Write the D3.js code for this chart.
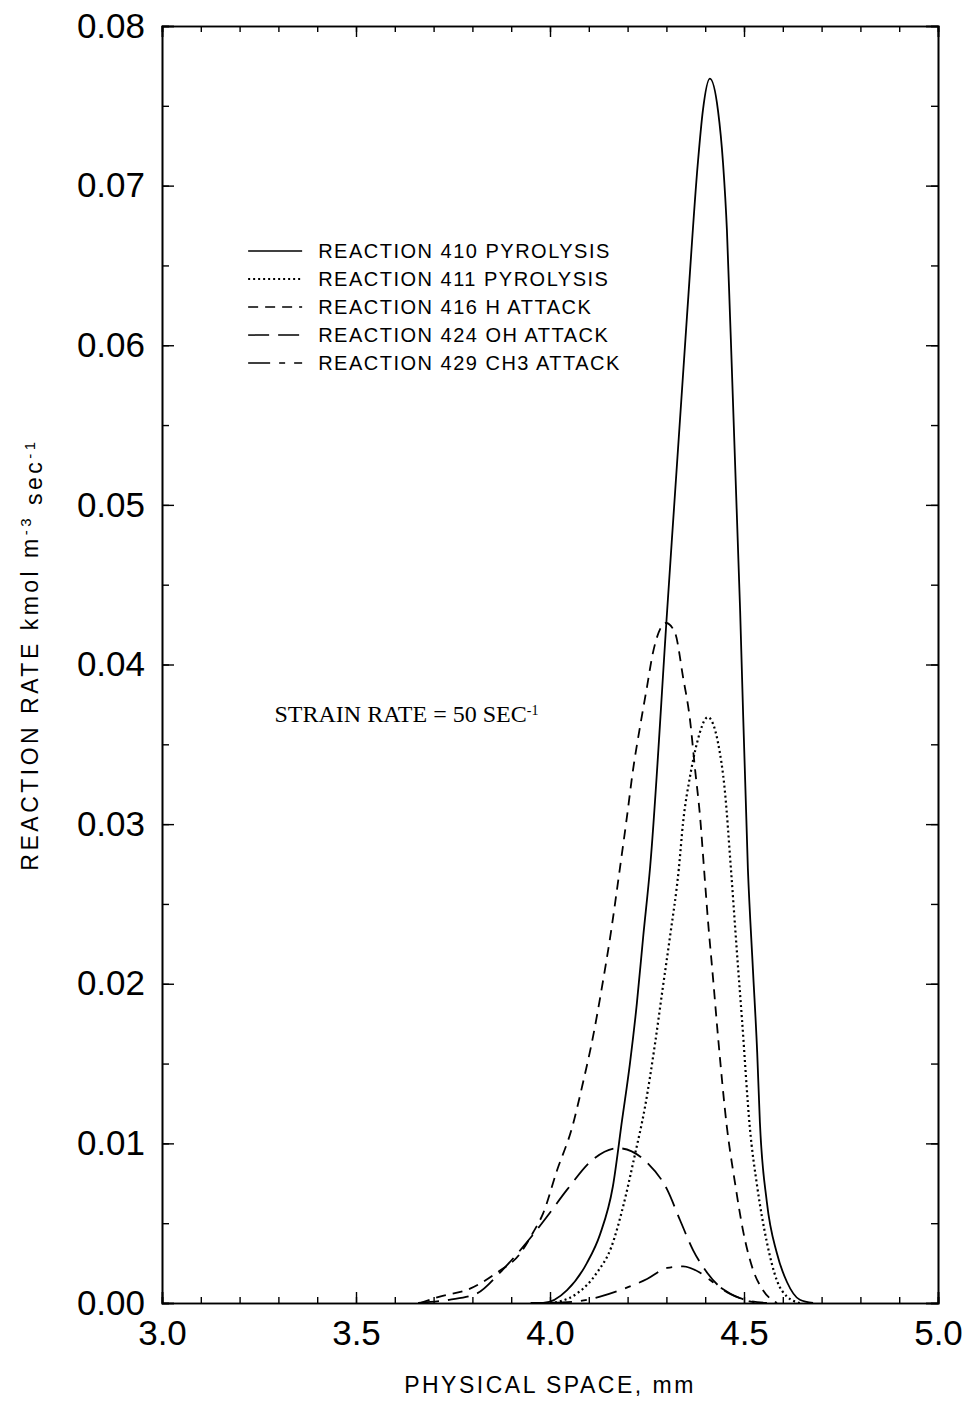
<!DOCTYPE html>
<html>
<head>
<meta charset="utf-8">
<script src="https://cdn.jsdelivr.net/npm/d3@7"></script>
<style>
  body { margin: 0; background: #fff; }
  svg { display: block; }
</style>
</head>
<body>
<div id="chart"></div>
<script>
// tick values
var xTickValues = [3.0, 3.5, 4.0, 4.5, 5.0];
var yTickValues = [0, 0.01, 0.02, 0.03, 0.04, 0.05, 0.06, 0.07, 0.08];

// series: [position mm, rate]
var r410 = [[3.95, 0], [3.982, 0], [4.044, 0.0008], [4.095, 0.0025], [4.129, 0.0043], [4.162, 0.0073],
  [4.186, 0.0115], [4.206, 0.015], [4.224, 0.0188], [4.24, 0.0229], [4.258, 0.0273], [4.302, 0.0434],
  [4.353, 0.0618], [4.381, 0.0714], [4.394, 0.0747], [4.412, 0.0767],
  [4.433, 0.0747], [4.446, 0.0714], [4.456, 0.0672], [4.464, 0.0618], [4.49, 0.0434], [4.51, 0.0272],
  [4.523, 0.0209], [4.534, 0.0157], [4.541, 0.0113], [4.559, 0.0063], [4.585, 0.0031], [4.611, 0.0013],
  [4.644, 0.0002], [4.678, 0]];

var r411 = [[4.0, 0], [4.026, 0.0001], [4.07, 0.0006], [4.121, 0.0019], [4.158, 0.0035], [4.19, 0.0062],
  [4.218, 0.0092], [4.245, 0.0123], [4.271, 0.0163], [4.291, 0.0198], [4.309, 0.0229], [4.332, 0.0272],
  [4.343, 0.0301], [4.361, 0.033], [4.379, 0.0351], [4.407, 0.0367], [4.433, 0.0351], [4.451, 0.032],
  [4.466, 0.0273], [4.482, 0.0219], [4.495, 0.0177], [4.515, 0.011], [4.534, 0.0073], [4.559, 0.0038],
  [4.585, 0.0014], [4.611, 0.0004], [4.644, 0]];

var r416 = [[3.665, 0], [3.716, 0.0004], [3.794, 0.0009], [3.863, 0.0019], [3.923, 0.0031], [3.956, 0.0044],
  [3.982, 0.0056], [4.018, 0.0083], [4.057, 0.011], [4.085, 0.0138], [4.111, 0.0167], [4.134, 0.0198],
  [4.155, 0.0229], [4.18, 0.0272], [4.198, 0.0304], [4.214, 0.0334], [4.232, 0.0361], [4.25, 0.0386],
  [4.265, 0.0407], [4.299, 0.0426], [4.322, 0.042], [4.343, 0.0392], [4.361, 0.0365], [4.374, 0.0334],
  [4.387, 0.0304], [4.397, 0.0272], [4.407, 0.024], [4.42, 0.0204], [4.433, 0.0167], [4.456, 0.011],
  [4.477, 0.0075], [4.497, 0.0046], [4.523, 0.0021], [4.549, 0.0008], [4.585, 0]];

var r424 = [[3.66, 0], [3.74, 0.0002], [3.812, 0.0006], [3.871, 0.0019], [3.93, 0.0035], [3.992, 0.0054],
  [4.044, 0.0071], [4.111, 0.009], [4.175, 0.0097], [4.25, 0.0088], [4.302, 0.0071], [4.335, 0.0052],
  [4.369, 0.0033], [4.405, 0.0019], [4.438, 0.001], [4.49, 0.0003], [4.559, 0]];

var r429 = [[4.0, 0], [4.07, 0.0001], [4.129, 0.0004], [4.18, 0.0008], [4.25, 0.0015], [4.302, 0.0022],
  [4.343, 0.0023], [4.387, 0.0019], [4.42, 0.0013], [4.464, 0.0006], [4.515, 0.0001], [4.55, 0]];

var legendNames = ["REACTION 410 PYROLYSIS", "REACTION 411 PYROLYSIS", "REACTION 416 H ATTACK",
  "REACTION 424 OH ATTACK", "REACTION 429 CH3 ATTACK"];
var seriesList = [r410, r411, r416, r424, r429];

// line styles, one per series
var dashes = ["none", "2,3", "10,7", "21,9", "22,9,6,9"];

var W = 967, H = 1403;
var margin = { top: 26, right: 29, bottom: 100, left: 162 },
    width = W - margin.left - margin.right,
    height = H - margin.top - margin.bottom;

var svg = d3.select("#chart")
    .append("svg")
    .attr("width", W)
    .attr("height", H)
    .append("g")
    .attr("transform", "translate(" + margin.left + "," + margin.top + ")");

var x = d3.scaleLinear().domain([3, 5]).range([0, width]);
var y = d3.scaleLinear().domain([0, 0.08]).range([height, 0]);

var minorX = d3.range(3, 5.0001, 0.1).map(function (d) { return +d.toFixed(1); });
var minorY = d3.range(0, 0.08001, 0.005).map(function (d) { return +d.toFixed(3); });

// bottom axis: inward ticks with labels
var axBottom = svg.append("g")
    .attr("transform", "translate(0," + height + ")");
axBottom.call(d3.axisBottom(x).tickValues(minorX).tickSize(-6).tickFormat(""));
axBottom.append("g").call(d3.axisBottom(x).tickValues(xTickValues).tickSize(-11).tickPadding(17)
    .tickFormat(d3.format(".1f")));

// top axis
var axTop = svg.append("g");
axTop.call(d3.axisTop(x).tickValues(minorX).tickSize(-6).tickFormat(""));
axTop.append("g").call(d3.axisTop(x).tickValues(xTickValues).tickSize(-11).tickFormat(""));

// left axis
var axLeft = svg.append("g");
axLeft.call(d3.axisLeft(y).tickValues(minorY).tickSize(-7).tickFormat(""));
axLeft.append("g").call(d3.axisLeft(y).tickValues(yTickValues).tickSize(-12).tickPadding(17)
    .tickFormat(d3.format(".2f")));

// right axis
var axRight = svg.append("g")
    .attr("transform", "translate(" + width + ",0)");
axRight.call(d3.axisRight(y).tickValues(minorY).tickSize(-7).tickFormat(""));
axRight.append("g").call(d3.axisRight(y).tickValues(yTickValues).tickSize(-12).tickFormat(""));

svg.selectAll(".domain").attr("stroke", "#000").attr("stroke-width", 1.6);
svg.selectAll(".tick line").attr("stroke", "#000").attr("stroke-width", 1.4);
svg.selectAll(".tick text")
    .style("font-family", "'Liberation Sans', Arial, sans-serif")
    .style("font-size", "35px")
    .attr("fill", "#000");

// curves
var line = d3.line()
    .x(function (d) { return x(d[0]); })
    .y(function (d) { return y(d[1]); })
    .curve(d3.curveMonotoneX);

svg.selectAll(".curve")
    .data(seriesList)
    .enter()
    .append("path")
    .attr("class", "curve")
    .attr("d", line)
    .attr("fill", "none")
    .attr("stroke", "#000")
    .attr("stroke-width", function (d, i) { return i == 1 ? 2.2 : 1.8; })
    .attr("stroke-dasharray", function (d, i) { return dashes[i]; });

// legend
var legend = svg.append("g")
    .attr("transform", "translate(" + x(3.222) + "," + y(0.0659) + ")");
var rowGap = 28;
legend.selectAll("line")
    .data(legendNames)
    .enter()
    .append("line")
    .attr("x1", 0)
    .attr("x2", 54)
    .attr("y1", function (d, i) { return i * rowGap; })
    .attr("y2", function (d, i) { return i * rowGap; })
    .attr("stroke", "#000")
    .attr("stroke-width", function (d, i) { return i == 1 ? 2 : 1.5; })
    .attr("stroke-dasharray", function (d, i) { return dashes[i]; });
legend.selectAll("text")
    .data(legendNames)
    .enter()
    .append("text")
    .attr("x", 70)
    .attr("y", function (d, i) { return i * rowGap; })
    .attr("dy", "0.35em")
    .style("font-family", "'Liberation Sans', Arial, sans-serif")
    .style("font-size", "20px")
    .style("letter-spacing", "1.5px")
    .text(function (d) { return d; });

// strain rate note
var note = svg.append("text")
    .attr("x", x(3.29))
    .attr("y", y(0.0364))
    .style("font-family", "'Liberation Serif', 'Times New Roman', serif")
    .style("font-size", "24px");
note.append("tspan").text("STRAIN RATE = 50 SEC");
note.append("tspan").attr("dy", "-0.5em").style("font-size", "14px").text("-1");

// axis titles
svg.append("text")
    .attr("x", width / 2)
    .attr("y", height + 90)
    .attr("text-anchor", "middle")
    .style("font-family", "'Liberation Sans', Arial, sans-serif")
    .style("font-size", "23px")
    .style("letter-spacing", "2.5px")
    .text("PHYSICAL SPACE, mm");

var ylab = svg.append("text")
    .attr("transform", "rotate(-90)")
    .attr("x", -height / 2 + 10)
    .attr("y", -margin.left + 38)
    .attr("text-anchor", "middle")
    .style("font-family", "'Liberation Sans', Arial, sans-serif")
    .style("font-size", "23px")
    .style("letter-spacing", "3.5px");
ylab.append("tspan").text("REACTION RATE kmol m");
ylab.append("tspan").attr("dy", "-0.5em").style("font-size", "15px").text("-3");
ylab.append("tspan").attr("dy", "0.5em").text(" sec");
ylab.append("tspan").attr("dy", "-0.5em").style("font-size", "15px").text("-1");
</script>
</body>
</html>
